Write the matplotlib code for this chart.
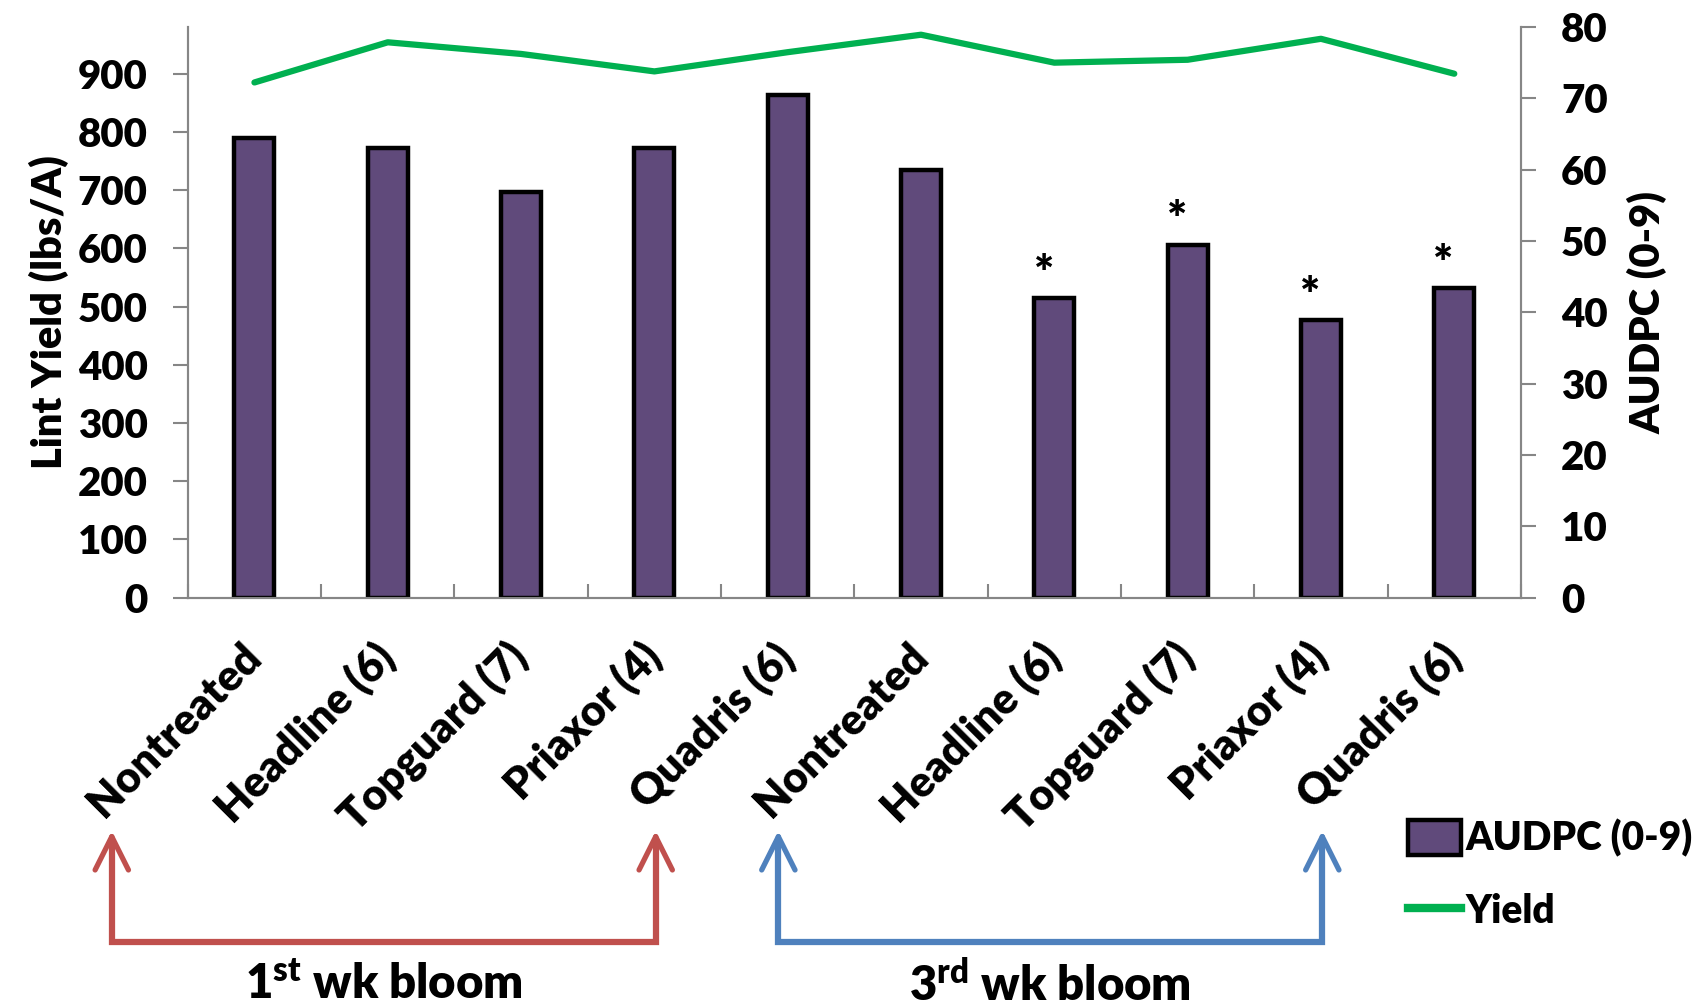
import numpy as np
import matplotlib
matplotlib.use('Agg')
import matplotlib.pyplot as plt
from matplotlib.patches import Patch
from matplotlib.lines import Line2D
from matplotlib.transforms import blended_transform_factory

W = 'heavy'
plt.rcParams['font.family'] = ['Lato', 'DejaVu Sans']
plt.rcParams['font.weight'] = W
plt.rcParams['mathtext.fontset'] = 'custom'
plt.rcParams['mathtext.rm'] = 'Lato:heavy'
plt.rcParams['mathtext.bf'] = 'Lato:heavy'

# data
treatments = ['Nontreated', 'Headline (6)', 'Topguard (7)', 'Priaxor (4)', 'Quadris (6)',
              'Nontreated', 'Headline (6)', 'Topguard (7)', 'Priaxor (4)', 'Quadris (6)']
audpc = [64.4, 63.1, 56.9, 63.1, 70.5, 60.0, 42.0, 49.5, 38.9, 43.4]
yield_lbs = [885, 954, 934, 904, 937, 967, 919, 924, 960, 900]
signif = [False, False, False, False, False, False, True, True, True, True]
groups = ['1$^{\\mathbf{st}}$ wk bloom', '3$^{\\mathbf{rd}}$ wk bloom']
group_ends = [(0, 4), (5, 9)]
group_colors = ['#C0504D', '#4F81BD']

gray = '#868686'
purple = '#604A7B'
green = '#00B050'

fig = plt.figure(figsize=(17.07, 10.06), dpi=100)
ax = fig.add_axes([0.110, 0.406, 0.781, 0.567])
ax2 = ax.twinx()

x = np.arange(len(treatments))

# yield line on the left axis
ax.plot(x, yield_lbs, color=green, lw=4.5, solid_capstyle='round', zorder=3)
ax.set_ylim(0, 980)
ax.set_yticks(np.arange(0, 901, 100))
ax.set_xlim(-0.5, len(treatments) - 0.5)

# AUDPC bars on the right axis
ax2.bar(x, audpc, width=0.3, color=purple, edgecolor='black', linewidth=3.2, zorder=2)
ax2.set_ylim(0, 80)
ax2.set_yticks(np.arange(0, 81, 10))
for xi, v, s in zip(x, audpc, signif):
    if s:
        ax2.text(xi - 0.08, v + 0.2, '*', ha='center', va='bottom', fontsize=34, fontweight=W)

for a in (ax, ax2):
    a.spines['top'].set_visible(False)
    for side in ['left', 'right', 'bottom']:
        a.spines[side].set_color(gray)
        a.spines[side].set_linewidth(1.5)
    a.tick_params(axis='y', colors=gray, labelcolor='black', labelsize=29, length=11, width=1.5, pad=18)

ax.set_xticks(x)
ax.set_xticklabels(treatments, rotation=45, ha='right', va='center', rotation_mode='anchor',
                   fontsize=31, fontweight=W)
ax.tick_params(axis='x', which='major', length=0, pad=38)
ax.set_xticks(np.arange(-0.5, len(treatments), 1.0), minor=True)
ax.tick_params(axis='x', which='minor', direction='in', length=10, width=1.5, color=gray)

ax.set_ylabel('Lint Yield (lbs/A)', fontsize=30, fontweight=W, labelpad=6)
ax2.set_ylabel('AUDPC (0-9)', fontsize=30, fontweight=W, labelpad=14)

# timing brackets below the labels
tr = blended_transform_factory(ax.transData, fig.transFigure)
for (i0, i1), label, col in zip(group_ends, groups, group_colors):
    xa, xb = i0 - 1.07, i1 - 0.99
    ax.plot([xa, xa, xb, xb], [0.16, 0.064, 0.064, 0.16], color=col, lw=4.5,
            transform=tr, clip_on=False, solid_joinstyle='miter')
    for xx in (xa, xb):
        ax.annotate('', xy=(xx, 0.177), xytext=(xx, 0.12), xycoords=tr, textcoords=tr,
                    arrowprops=dict(arrowstyle='->,head_length=2.4,head_width=1.2', color=col, lw=3.8),
                    annotation_clip=False)
    ax.text((xa + xb) / 2, 0.021, label, transform=tr, ha='center', va='center',
            fontsize=34, fontweight=W)

handles = [Patch(facecolor=purple, edgecolor='black', linewidth=3.2),
           Line2D([0], [0], color=green, lw=6)]
fig.legend(handles, ['AUDPC (0-9)', 'Yield'], loc='upper left', bbox_to_anchor=(0.8135, 0.205),
           frameon=False, fontsize=28, handlelength=1.35, handleheight=1.0, handletextpad=0.12,
           labelspacing=0.9, borderpad=0)

fig.savefig('out.png', dpi=100)
